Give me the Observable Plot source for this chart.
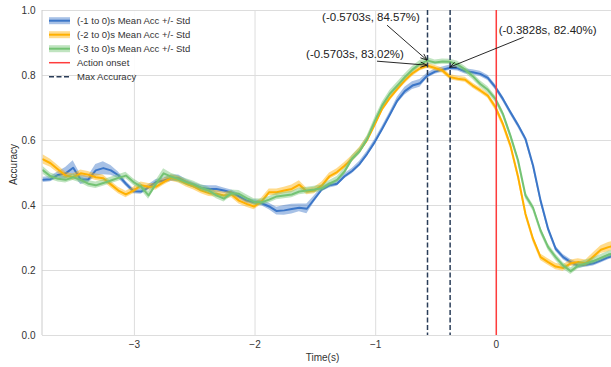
<!DOCTYPE html>
<html>
<head>
<meta charset="utf-8">
<script src="https://cdn.jsdelivr.net/npm/d3@7"></script>
<script src="https://cdn.jsdelivr.net/npm/@observablehq/plot@0.6"></script>
<style>
  html, body { margin: 0; padding: 0; background: #fff; overflow: hidden; }
  #chart { position: relative; width: 611px; height: 367px; }
  #chart svg { overflow: visible; }
</style>
</head>
<body>
<div id="chart"></div>
<script>
// Sample grid: one window every 1/16 s, first window centred at T0 seconds
const T0 = -3.7578;
const STEP = 0.0625;

// Mean decoding accuracy per window length
const blueMean = [
  0.479, 0.481, 0.494, 0.499, 0.516, 0.480, 0.480, 0.508, 0.515, 0.508,
  0.493, 0.467, 0.444, 0.443, 0.456, 0.472, 0.477, 0.484, 0.484, 0.472,
  0.462, 0.454, 0.451, 0.451, 0.446, 0.440, 0.428, 0.415, 0.410, 0.407,
  0.397, 0.383, 0.385, 0.389, 0.393, 0.390, 0.420, 0.450, 0.462, 0.467,
  0.490, 0.506, 0.528, 0.559, 0.595, 0.636, 0.679, 0.723, 0.752, 0.769,
  0.776, 0.800, 0.812, 0.818, 0.824, 0.822, 0.813, 0.810, 0.805, 0.793,
  0.764, 0.728, 0.687, 0.648, 0.605, 0.523, 0.415, 0.328, 0.267, 0.241,
  0.226, 0.215, 0.218, 0.222, 0.231, 0.241, 0.248
];
const orangeMean = [
  0.542, 0.530, 0.511, 0.492, 0.487, 0.499, 0.495, 0.487, 0.484, 0.465,
  0.446, 0.434, 0.446, 0.462, 0.458, 0.458, 0.472, 0.485, 0.479, 0.467,
  0.458, 0.446, 0.438, 0.436, 0.431, 0.434, 0.415, 0.405, 0.397, 0.413,
  0.441, 0.441, 0.446, 0.451, 0.464, 0.443, 0.446, 0.462, 0.490, 0.503,
  0.522, 0.544, 0.569, 0.602, 0.649, 0.698, 0.731, 0.759, 0.785, 0.807,
  0.822, 0.8302, 0.823, 0.815, 0.795, 0.790, 0.787, 0.769, 0.754, 0.738,
  0.703, 0.651, 0.585, 0.490, 0.374, 0.297, 0.241, 0.226, 0.212, 0.208,
  0.222, 0.226, 0.222, 0.243, 0.264, 0.272, 0.278
];
const greenMean = [
  0.508, 0.490, 0.482, 0.479, 0.487, 0.479, 0.467, 0.462, 0.469, 0.477,
  0.485, 0.492, 0.472, 0.458, 0.431, 0.467, 0.499, 0.489, 0.481, 0.472,
  0.465, 0.454, 0.446, 0.431, 0.421, 0.438, 0.436, 0.423, 0.411, 0.410,
  0.418, 0.428, 0.431, 0.434, 0.443, 0.446, 0.449, 0.453, 0.467, 0.479,
  0.505, 0.544, 0.567, 0.605, 0.659, 0.708, 0.744, 0.769, 0.795, 0.818,
  0.836, 0.8457, 0.840, 0.843, 0.842, 0.834, 0.818, 0.798, 0.774, 0.756,
  0.728, 0.682, 0.615, 0.540, 0.431, 0.393, 0.323, 0.272, 0.241, 0.215,
  0.198, 0.215, 0.222, 0.229, 0.239, 0.249, 0.255
];

// Standard deviation across runs
const blueStd = [
  0.008, 0.008, 0.010, 0.018, 0.022, 0.015, 0.010, 0.018, 0.020, 0.015,
  0.010, 0.008, 0.008, 0.008, 0.008, 0.008, 0.008, 0.010, 0.010, 0.008,
  0.008, 0.008, 0.010, 0.010, 0.008, 0.008, 0.008, 0.008, 0.008, 0.008,
  0.010, 0.012, 0.015, 0.015, 0.012, 0.015, 0.010, 0.008, 0.008, 0.008,
  0.008, 0.008, 0.008, 0.008, 0.008, 0.008, 0.008, 0.010, 0.012, 0.012,
  0.012, 0.008, 0.008, 0.008, 0.008, 0.008, 0.008, 0.008, 0.008, 0.008,
  0.008, 0.008, 0.008, 0.008, 0.008, 0.008, 0.008, 0.008, 0.008, 0.008,
  0.008, 0.008, 0.008, 0.008, 0.008, 0.008, 0.008
];
const orangeStd = [
  0.014, 0.012, 0.012, 0.010, 0.010, 0.010, 0.010, 0.010, 0.010, 0.010,
  0.010, 0.010, 0.010, 0.010, 0.010, 0.010, 0.010, 0.010, 0.010, 0.010,
  0.010, 0.010, 0.010, 0.010, 0.010, 0.010, 0.010, 0.010, 0.010, 0.010,
  0.010, 0.010, 0.010, 0.012, 0.012, 0.010, 0.010, 0.010, 0.010, 0.010,
  0.010, 0.010, 0.010, 0.010, 0.010, 0.010, 0.010, 0.010, 0.010, 0.010,
  0.008, 0.008, 0.008, 0.008, 0.008, 0.008, 0.008, 0.008, 0.008, 0.008,
  0.010, 0.010, 0.010, 0.010, 0.010, 0.010, 0.010, 0.010, 0.010, 0.010,
  0.010, 0.010, 0.010, 0.012, 0.012, 0.014, 0.014
];
const greenStd = [
  0.012, 0.010, 0.010, 0.010, 0.010, 0.010, 0.010, 0.010, 0.010, 0.010,
  0.010, 0.010, 0.010, 0.010, 0.012, 0.010, 0.014, 0.010, 0.010, 0.010,
  0.010, 0.010, 0.010, 0.010, 0.010, 0.010, 0.010, 0.010, 0.010, 0.010,
  0.010, 0.010, 0.010, 0.010, 0.010, 0.010, 0.010, 0.010, 0.010, 0.010,
  0.010, 0.010, 0.010, 0.010, 0.010, 0.010, 0.010, 0.010, 0.010, 0.010,
  0.010, 0.010, 0.008, 0.008, 0.008, 0.010, 0.010, 0.010, 0.010, 0.010,
  0.010, 0.010, 0.010, 0.010, 0.010, 0.010, 0.010, 0.010, 0.010, 0.010,
  0.010, 0.010, 0.010, 0.010, 0.010, 0.010, 0.010
];

const seriesNames = [
  "(-1 to 0)s Mean Acc +/- Std",
  "(-2 to 0)s Mean Acc +/- Std",
  "(-3 to 0)s Mean Acc +/- Std"
];
const onsetTime = 0;
const xTicks = [-3, -2, -1, 0];
const yTicks = [0, 0.2, 0.4, 0.6, 0.8, 1.0];

// ---- styling ----
const colors = ["#3b76c8", "#ffb000", "#74c374"];
const onsetColor = "#ff3c3c";
const peakColor = "#2a3d58";
const gridColor = "#dddddd";
const textColor = "#333333";
const FONT = "'Liberation Sans', Arial, Helvetica, sans-serif";

const means = [blueMean, orangeMean, greenMean];
const stds = [blueStd, orangeStd, greenStd];
const times = blueMean.map((_, i) => Math.round((T0 + i * STEP) * 1e4) / 1e4);

const rows = means.flatMap((m, s) => m.map((v, i) => ({
  series: s, t: times[i], mean: v, lo: v - stds[s][i], hi: v + stds[s][i]
})));

// Peak accuracy of each series
const peaks = means.map((m, s) => {
  const i = d3.maxIndex(m);
  return {series: s, t: times[i], v: m[i]};
});
const peakTimes = Array.from(new Set(peaks.map(p => p.t)));

const minus = d => (d < 0 ? "\u2212" + Math.abs(d) : String(d));

const chart = Plot.plot({
  width: 611,
  height: 367,
  marginLeft: 42,
  marginRight: 0,
  marginTop: 10,
  marginBottom: 32,
  style: {fontFamily: FONT, fontSize: "10px", color: textColor, background: "#fff", overflow: "visible"},
  x: {domain: [-3.762, 0.955], ticks: xTicks, tickFormat: minus, tickSize: 0, tickPadding: 5, label: null},
  y: {domain: [0, 1], ticks: yTicks, tickFormat: d3.format(".1f"), tickSize: 0, tickPadding: 7, label: null},
  marks: [
    Plot.ruleY(yTicks, {stroke: gridColor, strokeWidth: 1}),
    Plot.ruleX(xTicks, {stroke: gridColor, strokeWidth: 1}),
    ...colors.flatMap((c, s) => {
      const d = rows.filter(r => r.series === s);
      return [
        Plot.areaY(d, {x: "t", y1: "lo", y2: "hi", fill: c, fillOpacity: 0.45, clip: true}),
        Plot.line(d, {x: "t", y: "mean", stroke: c, strokeWidth: 2, clip: true})
      ];
    }),
    Plot.ruleX([onsetTime], {stroke: onsetColor, strokeWidth: 1.5}),
    Plot.ruleX(peakTimes, {stroke: peakColor, strokeWidth: 1.5, strokeDasharray: "5,2.5"})
  ]
});

document.getElementById("chart").appendChild(chart);

// ---- decorations drawn with the plot's own scales ----
const sx = chart.scale("x");
const sy = chart.scale("y");
const svg = d3.select(chart);
const [xLeft, xRight] = sx.range;
const [yBottom, yTop] = sy.range;

// left spine
svg.append("line")
  .attr("x1", xLeft).attr("x2", xLeft).attr("y1", yTop).attr("y2", yBottom)
  .attr("stroke", "#cccccc").attr("stroke-width", 1);

// axis titles
svg.append("text")
  .attr("x", (xLeft + xRight) / 2 - 4).attr("y", yBottom + 26)
  .attr("text-anchor", "middle").attr("fill", textColor)
  .style("font", `10px ${FONT}`).text("Time(s)");
svg.append("text")
  .attr("transform", `translate(17,${(yTop + yBottom) / 2 - 8}) rotate(-90)`)
  .attr("text-anchor", "middle").attr("fill", textColor)
  .style("font", `10px ${FONT}`).text("Accuracy");

// peak annotations: text offset and arrow tail relative to the peak, in pixels
const annotationLayout = [
  {series: 2, textDx: -56, textDy: -43, fromDx: -40, fromDy: -35},
  {series: 1, textDx: -72, textDy: -11, fromDx: -50, fromDy: -4},
  {series: 0, textDx: 98, textDy: -37, fromDx: 74, fromDy: -30}
];
function arrowHead(x0, y0, x1, y1, len = 6.5, half = 2.6) {
  const a = Math.atan2(y1 - y0, x1 - x0), c = Math.cos(a), s = Math.sin(a);
  const bx = x1 - len * c, by = y1 - len * s;
  return `M${bx - half * s},${by + half * c}L${x1},${y1}L${bx + half * s},${by - half * c}`;
}
const ann = svg.append("g");
annotationLayout.forEach(a => {
  const p = peaks[a.series];
  const px = sx.apply(p.t), py = sy.apply(p.v);
  const label = `(${p.t.toFixed(4)}s, ${(p.v * 100).toFixed(2)}%)`;
  ann.append("text")
    .attr("x", px + a.textDx).attr("y", py + a.textDy).attr("dy", "0.35em")
    .attr("text-anchor", "middle").attr("fill", "#222")
    .style("font", `11.5px ${FONT}`).text(label);
  ann.append("line")
    .attr("x1", px + a.fromDx).attr("y1", py + a.fromDy).attr("x2", px).attr("y2", py)
    .attr("stroke", "#111").attr("stroke-width", 0.9);
  ann.append("path")
    .attr("d", arrowHead(px + a.fromDx, py + a.fromDy, px, py))
    .attr("fill", "none").attr("stroke", "#111").attr("stroke-width", 0.9);
});

// legend
const lg = svg.append("g").attr("text-anchor", "start");
lg.append("rect")
  .attr("x", xLeft + 1).attr("y", yTop + 1).attr("width", 160).attr("height", 63)
  .attr("fill", "#fff").attr("fill-opacity", 0.9);
const rowY = i => yTop + 10.7 + i * 14;
const px0 = xLeft + 7, pw = 21, tx = xLeft + 35;
const legendText = (i, label) => lg.append("text")
  .attr("x", tx).attr("y", rowY(i)).attr("dy", "0.35em")
  .attr("text-anchor", "start").attr("fill", textColor)
  .style("font", `9.5px ${FONT}`).text(label);
colors.forEach((c, i) => {
  lg.append("rect").attr("x", px0).attr("y", rowY(i) - 3.5).attr("width", pw).attr("height", 7)
    .attr("fill", c).attr("fill-opacity", 0.45);
  lg.append("line").attr("x1", px0).attr("x2", px0 + pw).attr("y1", rowY(i)).attr("y2", rowY(i))
    .attr("stroke", c).attr("stroke-width", 2);
  legendText(i, seriesNames[i]);
});
lg.append("line").attr("x1", px0).attr("x2", px0 + pw).attr("y1", rowY(3)).attr("y2", rowY(3))
  .attr("stroke", onsetColor).attr("stroke-width", 1.5);
legendText(3, "Action onset");
lg.append("line").attr("x1", px0).attr("x2", px0 + pw).attr("y1", rowY(4)).attr("y2", rowY(4))
  .attr("stroke", peakColor).attr("stroke-width", 1.5).attr("stroke-dasharray", "5,2.5");
legendText(4, "Max Accuracy");
</script>
</body>
</html>
